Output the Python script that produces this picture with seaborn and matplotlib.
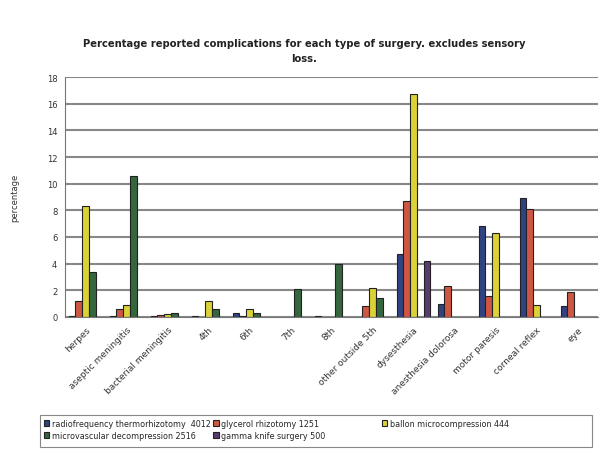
import numpy as np
import pandas as pd
import matplotlib
matplotlib.use("Agg")
import matplotlib.pyplot as plt
import seaborn as sns
from matplotlib.patches import Rectangle

categories = ["herpes", "aseptic meningitis", "bacterial meningitis", "4th", "6th", "7th", "8th",
              "other outside 5th", "dysesthesia", "anesthesia dolorosa", "motor paresis",
              "corneal reflex", "eye"]
series = ["radiofrequency thermorhizotomy  4012", "glycerol rhizotomy 1251",
          "ballon microcompression 444", "microvascular decompression 2516",
          "gamma knife surgery 500"]
nan = np.nan
radiofrequency = [0.1, 0.1, 0.05, 0.1, 0.3, nan, 0.1, nan, 4.7, 1.0, 6.8, 8.9, 0.8]
glycerol = [1.2, 0.6, 0.15, nan, 0.1, nan, nan, 0.8, 8.7, 2.3, 1.6, 8.1, 1.9]
ballon = [8.3, 0.9, 0.2, 1.2, 0.6, nan, nan, 2.2, 16.7, nan, 6.3, 0.9, nan]
microvascular = [3.4, 10.6, 0.3, 0.6, 0.3, 2.1, 4.0, 1.4, nan, nan, nan, nan, nan]
gamma_knife = [nan, nan, nan, nan, nan, nan, nan, nan, 4.2, nan, nan, nan, nan]
colors = ["#233a8f", "#e5452b", "#f5ea1c", "#2d6e38", "#5a3378"]

rows = []
for name, vals in zip(series, [radiofrequency, glycerol, ballon, microvascular, gamma_knife]):
    for cat, v in zip(categories, vals):
        rows.append({"category": cat, "series": name, "value": v})
df = pd.DataFrame(rows)

sns.set_style("white")
fig = plt.figure(figsize=(6.08, 4.56), dpi=100)
ax = fig.add_axes([65 / 608, 1 - 318 / 456, 533 / 608, 240 / 456])

sns.barplot(data=df, x="category", y="value", hue="series", order=categories,
            hue_order=series, palette=colors, width=0.82, edgecolor="#222222",
            linewidth=0.8, errorbar=None, ax=ax)

ax.set_ylim(0, 18)
ax.set_yticks(range(0, 19, 2))
ax.yaxis.grid(True, color="#888888", linewidth=1.5)
ax.set_axisbelow(True)
for s in ["top", "right"]:
    ax.spines[s].set_visible(False)
for s in ["left", "bottom"]:
    ax.spines[s].set_color("#777777")
ax.tick_params(axis="y", labelsize=6, length=2, color="#777777", labelcolor="#333333")
ax.tick_params(axis="x", labelsize=6.5, length=2, color="#777777", labelcolor="#333333")
ax.set_xticks(range(len(categories)))
ax.set_xticklabels(categories, rotation=45, ha="right", rotation_mode="anchor")
ax.set_xlabel("")
ax.set_ylabel("percentage", fontsize=6, color="#333333", labelpad=20)

fig.suptitle("Percentage reported complications for each type of surgery. excludes sensory\nloss.",
             fontsize=7.2, fontweight="bold", y=0.915, color="#222222", linespacing=1.7)

handles, labels = ax.get_legend_handles_labels()
ax.get_legend().remove()
kw = dict(fontsize=5.8, frameon=False, handlelength=0.7, handleheight=0.7,
          handletextpad=0.3, borderpad=0.2, labelspacing=0.4, borderaxespad=0)
leg1 = fig.legend([handles[0], handles[3], handles[1], handles[4]],
                  [labels[0], labels[3], labels[1], labels[4]],
                  loc="upper left", bbox_to_anchor=(42 / 608, 1 - 418 / 456),
                  ncol=2, columnspacing=0.3, **kw)
leg2 = fig.legend([handles[2]], [labels[2]], loc="upper left",
                  bbox_to_anchor=(380 / 608, 1 - 418 / 456), **kw)
fig.add_artist(Rectangle((40 / 608, 1 - 448 / 456), 552 / 608, 32 / 456,
                         transform=fig.transFigure, fill=False,
                         edgecolor="#888888", linewidth=0.8))

fig.savefig("out.png", dpi=100)
